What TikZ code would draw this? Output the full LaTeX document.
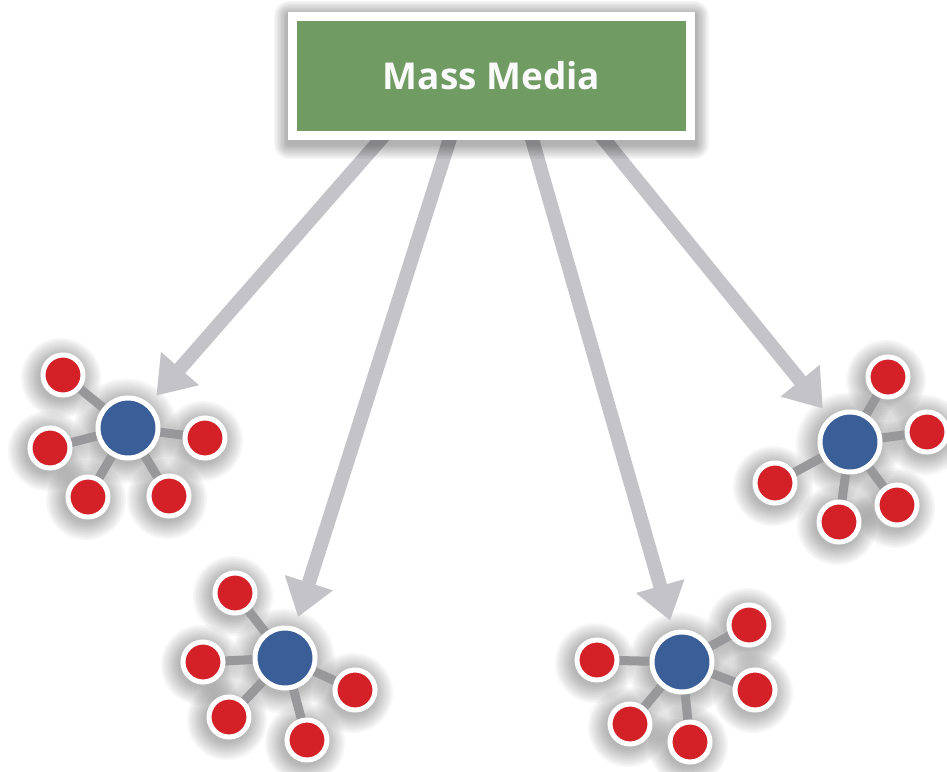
\documentclass[tikz,border=0pt]{standalone}
\usepackage{fontspec}
\setmainfont{Open Sans}
\usetikzlibrary{arrows.meta}

\definecolor{boxgreen}{RGB}{112,156,100}
\definecolor{nodered}{RGB}{212,32,39}
\definecolor{hubblue}{RGB}{58,94,152}
\definecolor{linkgray}{RGB}{152,152,155}
\definecolor{arrowgray}{RGB}{196,196,200}
\definecolor{labelwhite}{RGB}{250,250,250}

\pgfdeclarelayer{shadow}
\pgfdeclarelayer{links}
\pgfdeclarelayer{boxshadow}
\pgfsetlayers{shadow,links,boxshadow,main}

\tikzset{
  hub/.style={circle, fill=hubblue, draw=white, line width=5pt,
    minimum size=60pt, inner sep=0pt},
  leaf/.style={circle, fill=nodered, draw=white, line width=5pt,
    minimum size=40pt, inner sep=0pt},
  link/.style={draw=linkgray, line width=9pt},
  flow/.style={draw=arrowgray, line width=14pt,
    -{Triangle[width=48pt,length=36pt]}, shorten >=43pt},
  mediabox/.style={draw=white, fill=boxgreen, line width=9pt,
    minimum width=398pt, minimum height=119pt, inner sep=0pt,
    text=labelwhite, font=\fontsize{37}{38}\selectfont\bfseries},
  glow/.style={black, opacity=0.028},
}

\begin{document}
\begin{tikzpicture}[x=1pt,y=-1pt]
\useasboundingbox (0,0) rectangle (947,771);

% source box
\node[mediabox] (media) at (491.5,76) {Mass Media};

% hubs of the four groups
\node[hub] (h1) at (128,428) {};
\node[hub] (h2) at (285,658) {};
\node[hub] (h3) at (682,662) {};
\node[hub] (h4) at (850,442) {};

% members of each group
\foreach \n/\x/\y in {
    1a/63/375, 1b/50/448, 1c/88/497, 1d/169/496, 1e/205/438,
    2a/235/593, 2b/203/662, 2c/229/717, 2d/307/740, 2e/355/690,
    3a/597/660, 3b/749/625, 3c/755/690, 3d/630/724, 3e/690/742,
    4a/888/377, 4b/927/432, 4c/897/505, 4d/839/522, 4e/775/483}
  \node[leaf] (l\n) at (\x,\y) {};

% soft shadows under the circles
\begin{pgfonlayer}{shadow}
  \foreach \n in {h1,h2,h3,h4}
    \foreach \k in {1,...,12}
      \fill[glow] ([shift={(-2,3)}]\n.center) circle ({31+1.8*\k});
  \foreach \n in {1a,1b,1c,1d,1e,2a,2b,2c,2d,2e,3a,3b,3c,3d,3e,4a,4b,4c,4d,4e}
    \foreach \k in {1,...,12}
      \fill[glow] ([shift={(-2,3)}]l\n.center) circle ({21+1.6*\k});
\end{pgfonlayer}

% links inside the groups and arrows from the box
\coordinate (s1) at (387,132);
\coordinate (s2) at (452,132);
\coordinate (s3) at (530,132);
\coordinate (s4) at (598,132);
\begin{pgfonlayer}{links}
  \foreach \h/\l in {1/1a,1/1b,1/1c,1/1d,1/1e,2/2a,2/2b,2/2c,2/2d,2/2e,
                     3/3a,3/3b,3/3c,3/3d,3/3e,4/4a,4/4b,4/4c,4/4d,4/4e}
    \draw[link] (h\h.center) -- (l\l.center);
  \draw[flow] (s1) -- (h1.center);
  \draw[flow] (s2) -- (h2.center);
  \draw[flow] (s3) -- (h3.center);
  \draw[flow] (s4) -- (h4.center);
\end{pgfonlayer}

% shadow around the box
\begin{pgfonlayer}{boxshadow}
  \foreach \k in {1,...,10}
    \fill[black, opacity=0.035, rounded corners={1.5*\k}]
      ({288-1.4*\k},{15-1.4*\k}) rectangle ({695+1.4*\k},{144+1.5*\k});
\end{pgfonlayer}
\end{tikzpicture}
\end{document}
